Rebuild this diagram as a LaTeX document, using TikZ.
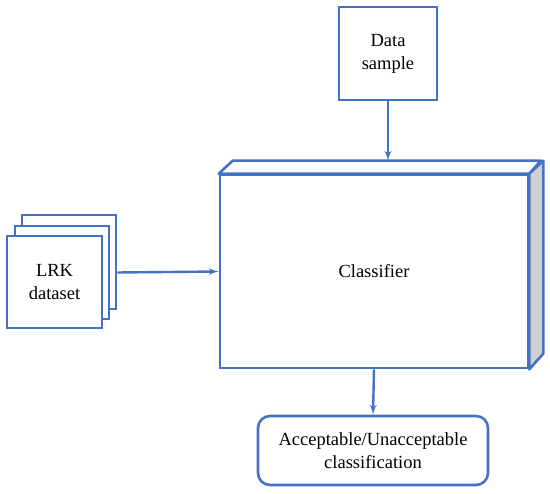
\documentclass[tikz,border=0pt]{standalone}
\usepackage{fontspec}
\setmainfont{Liberation Serif}
\newfontfamily\diagfont{Liberation Serif}
\usetikzlibrary{shapes,arrows,calc}
\definecolor{lineblue}{HTML}{4472C4}
\definecolor{sidegrey}{HTML}{D0D0D0}
\tikzstyle{line} = [draw, lineblue, line width=2.4pt, -latex']
\tikzstyle{block} = [draw=lineblue, line width=2.6pt, fill=white, rectangle, text centered, align=center]
\tikzstyle{cloud} = [draw=lineblue, line width=2.6pt, rectangle, text centered, align=center, rounded corners=12pt]
\tikzstyle{face} = [draw=lineblue, line width=2.6pt, line join=round]

\begin{document}
\begin{tikzpicture}[x=1pt, y=-1pt, font=\diagfont\fontsize{18.5}{23}\selectfont]
        \useasboundingbox (0,0) rectangle (550,494);
        \node[block, minimum width=98pt, minimum height=93pt] (sample) at (388,53.5) {Data\\sample};
        \node[block, minimum width=308pt, minimum height=193pt] (classifier) at (374,271.5) {Classifier};
        \draw[face, fill=white] (classifier.north west) -- ++(14,-13) -- ++(308,0) -- (classifier.north east) -- cycle;
        \draw[face, fill=sidegrey] (classifier.north east) -- ++(14,-13) -- ++(0,193) -- (classifier.south east) -- cycle;
        \coordinate (cubetop) at ($(classifier.north)+(0,-13)$);
        \node[block, minimum width=94pt, minimum height=94pt] (back) at (69,262) {};
        \node[block, minimum width=94pt, minimum height=93pt] (middle) at (62,272.5) {};
        \node[block, minimum width=95pt, minimum height=92pt] (lrk) at (54.5,282) {LRK\\dataset};
        \node[cloud, minimum width=230pt, minimum height=69pt] (result) at (373,450.5) {Acceptable/Unacceptable\\classification};
        \path[line] (sample.south) -- (sample.south |- cubetop);
        \path[line] (back.east |- middle.east) -- (classifier.west);
        \path[line] (classifier.south) -- (result.north);
    \end{tikzpicture}
\end{document}
